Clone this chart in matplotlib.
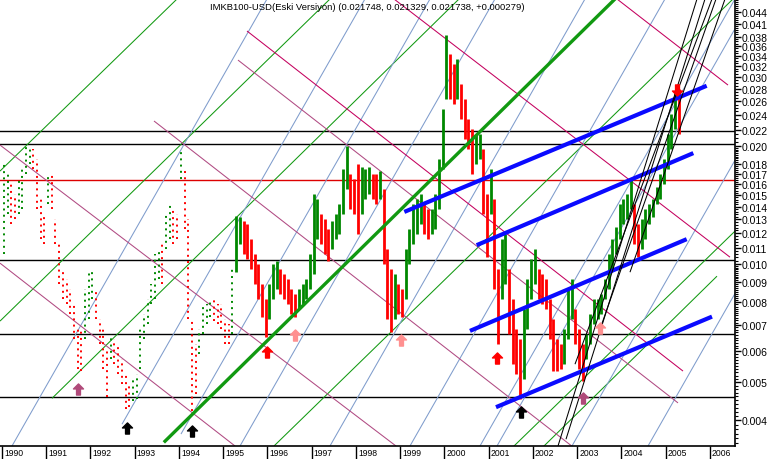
import numpy as np
import matplotlib.pyplot as plt
from matplotlib.path import Path
from matplotlib.ticker import NullFormatter, FixedFormatter
from matplotlib.transforms import blended_transform_factory, offset_copy

plt.rcParams['font.family'] = ['Liberation Sans', 'DejaVu Sans']

# monthly high / low, Jan 1990 - Mar 1995 (drawn as dots)
dot_high = [0.01799, 0.01697, 0.01600, 0.01509, 0.01648, 0.01747, 0.02024, 0.01988, 0.01965, 0.01853, 0.01465, 0.01341,
            0.01667, 0.01697, 0.01303, 0.01125, 0.00971, 0.00916, 0.00863, 0.00791, 0.00683, 0.00683, 0.00863, 0.00960,
            0.00971, 0.00863, 0.00724, 0.00683, 0.00607, 0.00663, 0.00644, 0.00625, 0.00572, 0.00524, 0.00494, 0.00509,
            0.00524, 0.00683, 0.00745, 0.00814, 0.00889, 0.01061, 0.01092, 0.01125, 0.01341, 0.01423, 0.01381, 0.01341,
            0.01965, 0.01747, 0.01303, 0.00724, 0.00625, 0.00683, 0.00791, 0.00791, 0.00814, 0.00814, 0.00791, 0.00791,
            0.00724, 0.00703, 0.00971]
dot_low = [0.01061, 0.01341, 0.01265, 0.01303, 0.01341, 0.01381, 0.01697, 0.01799, 0.01747, 0.01381, 0.01158, 0.01125,
           0.01423, 0.01381, 0.01125, 0.00889, 0.00814, 0.00791, 0.00745, 0.00644, 0.00540, 0.00534, 0.00644, 0.00724,
           0.00814, 0.00724, 0.00625, 0.00540, 0.00458, 0.00572, 0.00556, 0.00524, 0.00494, 0.00427, 0.00432, 0.00448,
           0.00453, 0.00540, 0.00644, 0.00703, 0.00791, 0.00814, 0.00916, 0.00889, 0.01092, 0.01158, 0.01125, 0.01158,
           0.01648, 0.01228, 0.00724, 0.00422, 0.00466, 0.00589, 0.00663, 0.00703, 0.00733, 0.00715, 0.00703, 0.00683,
           0.00625, 0.00625, 0.00663]

# monthly high / low, Apr 1995 - Apr 2005 (drawn as bars)
bar_high = [0.01326, 0.01318, 0.01288, 0.01265, 0.01158, 0.01061, 0.01000, 0.00889, 0.00814,
            0.00889, 0.01000, 0.01018, 0.00971, 0.00943, 0.00916, 0.00863, 0.00838, 0.00863, 0.00889, 0.00916, 0.01061,
            0.01509, 0.01465, 0.01341, 0.01303, 0.01228, 0.01288, 0.01341, 0.01423, 0.01747, 0.02000, 0.01697, 0.01648,
            0.01799, 0.01768, 0.01747, 0.01768, 0.01697, 0.01697, 0.01727, 0.01554, 0.01092, 0.00971, 0.00943, 0.00889,
            0.00863, 0.01092, 0.01228, 0.01423, 0.01465, 0.01509, 0.01423, 0.01381, 0.01381, 0.01509, 0.01853, 0.02485,
            0.03838, 0.03433, 0.03237, 0.03333, 0.02878, 0.02635, 0.02344, 0.02210, 0.02146, 0.02146, 0.01965, 0.01509,
            0.01747, 0.01465, 0.00971, 0.01158, 0.01193, 0.00971, 0.00814, 0.00683, 0.00644, 0.00768, 0.00916, 0.01030,
            0.01092, 0.00971, 0.00943, 0.00916, 0.00814, 0.00724, 0.00644, 0.00625, 0.00683, 0.00863, 0.00916, 0.00768,
            0.00683, 0.00625, 0.00663, 0.00745, 0.00814, 0.00814, 0.00838, 0.00916, 0.01061, 0.01158, 0.01242, 0.01423,
            0.01465, 0.01509, 0.01648, 0.01423, 0.01265, 0.01303, 0.01381, 0.01423, 0.01465, 0.01572, 0.01697, 0.01853,
            0.02146, 0.02413, 0.02762, 0.02795]
bar_low = [0.00954, 0.01125, 0.01061, 0.01030, 0.00971, 0.00889, 0.00814, 0.00732, 0.00652,
           0.00724, 0.00814, 0.00863, 0.00838, 0.00814, 0.00791, 0.00745, 0.00732, 0.00768, 0.00791, 0.00814, 0.00863,
           0.00943, 0.01158, 0.01125, 0.01061, 0.01018, 0.01092, 0.01158, 0.01193, 0.01341, 0.01554, 0.01381, 0.01341,
           0.01193, 0.01341, 0.01465, 0.01509, 0.01465, 0.01423, 0.01465, 0.01000, 0.00724, 0.00671, 0.00724, 0.00745,
           0.00732, 0.00814, 0.01000, 0.01125, 0.01193, 0.01265, 0.01193, 0.01158, 0.01193, 0.01228, 0.01381, 0.01747,
           0.02635, 0.02635, 0.02559, 0.02635, 0.02344, 0.02084, 0.01965, 0.01697, 0.01799, 0.01853, 0.01341, 0.01042,
           0.01341, 0.00863, 0.00625, 0.00814, 0.00889, 0.00663, 0.00556, 0.00524, 0.00453, 0.00509, 0.00683, 0.00814,
           0.00889, 0.00814, 0.00791, 0.00768, 0.00644, 0.00534, 0.00534, 0.00540, 0.00556, 0.00644, 0.00724, 0.00625,
           0.00540, 0.00503, 0.00572, 0.00625, 0.00703, 0.00724, 0.00745, 0.00814, 0.00863, 0.00971, 0.01061, 0.01158,
           0.01265, 0.01303, 0.01381, 0.01125, 0.01042, 0.01092, 0.01158, 0.01265, 0.01318, 0.01423, 0.01465, 0.01600,
           0.01747, 0.01965, 0.02210, 0.02146]

# horizontal levels
levels_black = [0.02184, 0.02024, 0.01024, 0.00663, 0.00458]
level_red = 0.01638

# trend lines as (year1, price1, year2, price2)
green_main = (1993.684, 0.003538, 2003.853, 0.04741)
green_thin = [(1989.955, 0.01727, 1993.955, 0.04741),
              (1989.955, 0.00716, 1997.412, 0.04741),
              (1991.130, 0.00455, 2000.328, 0.04741),
              (1996.147, 0.00344, 2006.520, 0.04741),
              (2001.548, 0.00342, 2006.565, 0.01214),
              (2002.226, 0.00342, 2006.158, 0.00932)]
steel_lines = [(1990.226, 0.00344, 1995.989, 0.04741),
               (1992.712, 0.00391, 1998.203, 0.04741),
               (1994.045, 0.00369, 1999.672, 0.04741),
               (1995.379, 0.00344, 2001.141, 0.04741),
               (1997.412, 0.00344, 2003.175, 0.04741),
               (1999.220, 0.00344, 2004.983, 0.04741),
               (2000.802, 0.00344, 2006.565, 0.04741),
               (2001.186, 0.00344, 2006.949, 0.04741),
               (2002.881, 0.00344, 2008.644, 0.04741),
               (2004.599, 0.00344, 2010.362, 0.04741)]
mauve_lines = [(1989.955, 0.02012, 1998.904, 0.00344),
               (1989.955, 0.01006, 1995.266, 0.00344),
               (1993.435, 0.02317, 2002.904, 0.00342),
               (1995.333, 0.03313, 2005.277, 0.00443)]
crimson_lines = [(1995.537, 0.03929, 2005.390, 0.00534),
                 (1998.859, 0.04741, 2006.452, 0.01042),
                 (2003.898, 0.04741, 2006.407, 0.02861)]
blue_lines = [(1999.092, 0.01359, 2005.925, 0.02849),
              (2000.727, 0.01118, 2005.623, 0.01919),
              (2000.576, 0.00676, 2005.473, 0.01158),
              (2001.164, 0.00432, 2006.045, 0.00735)]
fan_lines = [(2002.565, 0.00344, 2005.706, 0.04741),
             (2002.746, 0.00358, 2005.887, 0.04741),
             (2002.949, 0.00556, 2006.045, 0.04741),
             (2003.514, 0.00683, 2006.136, 0.04741),
             (2004.192, 0.00954, 2006.339, 0.04741)]

# arrow signals (year, price)
up_mauve = ([1991.718, 2003.130], [0.00480, 0.00455])
up_black = ([1992.825, 1994.294, 2001.729], [0.00382, 0.00376, 0.00419])
up_red = ([1995.989, 2001.186], [0.00596, 0.00575])
up_pink = ([1996.621, 1999.017, 2003.514], [0.00659, 0.00640, 0.00687])
down_red = ([2005.254], [0.02779])

price_ticks = [0.044, 0.041, 0.038, 0.036, 0.034, 0.032, 0.030, 0.028, 0.026, 0.024, 0.022, 0.020,
               0.018, 0.017, 0.016, 0.015, 0.014, 0.013, 0.012, 0.011, 0.010, 0.009, 0.008, 0.007,
               0.006, 0.005, 0.004]
years = list(range(1990, 2007))

GREEN = '#008800'
RED = '#ff0000'

fig = plt.figure(figsize=(7.67, 4.60), dpi=100)
ax = fig.add_axes([0, 13 / 460, 735 / 767, 447 / 460])
ax.set_yscale('log')
ax.set_xlim(1989.955, 2006.565)
ax.set_ylim(0.00344, 0.04741)


def draw_lines(lines, color, lw, z):
    for x1, y1, x2, y2 in lines:
        ax.plot([x1, x2], [y1, y2], color=color, lw=lw, zorder=z, solid_capstyle='butt')


for lv in levels_black:
    ax.axhline(lv, color='black', lw=1.0, zorder=1)
ax.axhline(level_red, color='#dd0000', lw=1.0, zorder=1)

draw_lines(green_thin, '#119911', 0.75, 2)
draw_lines(steel_lines, '#7f9ccc', 0.75, 2)
draw_lines(mauve_lines, '#b04a82', 0.75, 2)
draw_lines(crimson_lines, '#c4005e', 0.75, 2)

# price: dotted period
dh = np.array(dot_high)
dl = np.array(dot_low)
dx = 1990 + (np.arange(len(dh)) + 0.5) / 12
dmid = np.sqrt(dh * dl)
dcol = [GREEN if i == 0 or dmid[i] >= dmid[i - 1] else RED for i in range(len(dh))]
ax.vlines(dx, dl, dh, colors=dcol, linestyles=[(0, (1, 2.2))], lw=1.4, zorder=3)

# price: bar period
bh = np.array(bar_high)
bl = np.array(bar_low)
bx = 1995 + 3 / 12 + (np.arange(len(bh)) + 0.5) / 12
bmid = np.sqrt(bh * bl)
prev = np.concatenate([[dmid[-1]], bmid[:-1]])
bcol = [GREEN if m >= p else RED for m, p in zip(bmid, prev)]
ax.vlines(bx, bl, bh, colors=bcol, lw=2.0, zorder=3)

ax.plot([green_main[0], green_main[2]], [green_main[1], green_main[3]],
        color='#119911', lw=2.4, zorder=4)
draw_lines(blue_lines, '#0a0aff', 3.0, 4)
draw_lines(fan_lines, 'black', 0.75, 4)

arrow_up = Path([(0, 1), (0.9, 0.1), (0.35, 0.1), (0.35, -1), (-0.35, -1),
                 (-0.35, 0.1), (-0.9, 0.1), (0, 1)], closed=True)
arrow_down = Path([(x, -y) for x, y in arrow_up.vertices], closed=True)
for (xs, ys), col in [(up_mauve, '#b04a7a'), (up_black, 'black'), (up_red, '#ff0000'),
                      (up_pink, '#ff9090')]:
    ax.plot(xs, ys, ls='none', marker=arrow_up, ms=8, color=col, mec=col, zorder=5)
ax.plot(down_red[0], down_red[1], ls='none', marker=arrow_down, ms=8,
        color='#ff0000', mec='#ff0000', zorder=5)

# axes styling
for s in ['top', 'left']:
    ax.spines[s].set_visible(False)
ax.spines['right'].set_linewidth(1.2)
ax.spines['bottom'].set_linewidth(1.2)

ax.yaxis.tick_right()
ax.set_yticks(price_ticks)
ax.yaxis.set_major_formatter(FixedFormatter(['%.3f' % v for v in price_ticks]))
minor = np.concatenate([np.arange(0.0035, 0.010, 0.0001),
                        np.arange(0.010, 0.020, 0.0002),
                        np.arange(0.020, 0.0475, 0.0005)])
ax.set_yticks(minor, minor=True)
ax.yaxis.set_minor_formatter(NullFormatter())
ax.tick_params(axis='y', which='major', length=4, width=1, pad=1, labelsize=7.5,
               right=True, left=False)
ax.tick_params(axis='y', which='minor', length=2.5, width=0.8, right=True, left=False)

ax.set_xticks(years)
ax.set_xticklabels([])
ax.tick_params(axis='x', which='major', length=9.4, width=1, direction='out')
ax.tick_params(axis='x', which='minor', bottom=False)
trans = offset_copy(blended_transform_factory(ax.transData, ax.transAxes),
                    fig=fig, x=2, y=-2, units='dots')
for yr in years:
    ax.text(yr, 0, str(yr), transform=trans, ha='left', va='top', fontsize=6.2, clip_on=False)

fig.text(367 / 767, 1 - 7 / 460,
         'IMKB100-USD(Eski Versiyon) (0.021748, 0.021329, 0.021738, +0.000279)',
         ha='center', va='center', fontsize=6.8)

fig.savefig('out.png', dpi=100)
